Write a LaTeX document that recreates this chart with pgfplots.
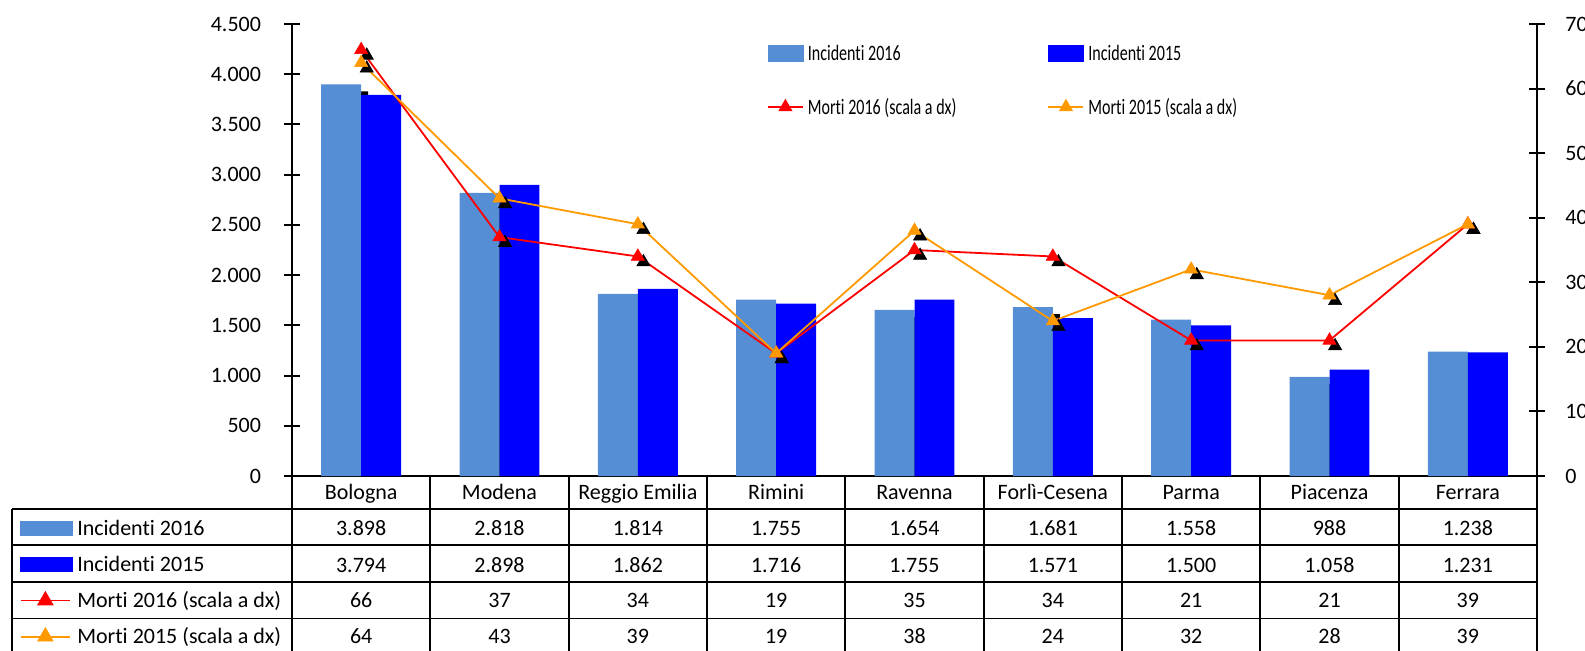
\documentclass[border=0pt]{standalone}
\usepackage{fontspec}
\setmainfont{Carlito}[Ligatures=NoCommon, RawFeature={-liga;-clig;-dlig}]
\usepackage{graphicx}
\usepackage{pgfplots}
\pgfplotsset{compat=1.18}
\usetikzlibrary{shadows}
\definecolor{lb}{RGB}{85,142,213}
\definecolor{db}{RGB}{0,0,255}
\definecolor{rd}{RGB}{255,0,0}
\definecolor{og}{RGB}{255,153,0}
\begin{document}
\begin{tikzpicture}[font=\fontsize{11}{13}\selectfont,
  tc/.style={inner sep=0pt, text height=7pt, text depth=0pt, anchor=center}]
\pgfplotsset{
  base/.style={width=622.5pt, height=226pt, scale only axis, at={(0,0)}, anchor=south west, xmin=0, xmax=9},
  lgd/.style={legend cell align=left,
    legend style={draw=none, fill=none, inner sep=0pt, outer sep=0pt,
      font=\fontsize{11}{13}\selectfont,
      nodes={inner sep=0pt, text height=7pt, text depth=0pt, minimum height=10pt}}},
}
% ---------- bars (left axis) ----------
\begin{axis}[base, ymin=0, ymax=4500, ytick={0,500,...,4500}, xtick=\empty,
  scaled y ticks=false,
  axis x line*=bottom, axis y line*=left,
  axis line style={-, line width=1pt, black},
  major tick length=8pt, tick align=center, tick style={line width=1pt, black},
  yticklabel style={inner sep=0pt, xshift=-11.3pt, font=\fontsize{11}{13}\selectfont},
  /pgf/number format/1000 sep={.},
  /pgf/number format/assume math mode=true]
\addplot[ybar, bar width=0.289, bar shift=-0.1445, fill=lb, draw=none,
  drop shadow={shadow xshift=3.5pt, shadow yshift=-3.5pt, fill=black, opacity=1}]
  coordinates {(0.5,3898) (1.5,2818) (2.5,1814) (3.5,1755) (4.5,1654) (5.5,1681) (6.5,1558) (7.5,988) (8.5,1238)};
\addplot[ybar, bar width=0.289, bar shift=0.1445, fill=db, draw=none]
  coordinates {(0.5,3794) (1.5,2898) (2.5,1862) (3.5,1716) (4.5,1755) (5.5,1571) (6.5,1500) (7.5,1058) (8.5,1231)};
\end{axis}
% ---------- lines (right axis) ----------
\begin{axis}[base, ymin=0, ymax=70, ytick={0,10,...,70},
  axis y line*=right, axis x line=none,
  axis line style={-, line width=1pt, black},
  major tick length=8pt, tick align=center, tick style={line width=1pt, black},
  yticklabel style={inner sep=0pt, xshift=10pt, font=\fontsize{11}{13}\selectfont},
  /pgf/number format/assume math mode=true,
  lgd, legend columns=2,
  legend style={at={(0,1)}, anchor=north west, xshift=237.5pt, yshift=-9.5pt,
    /tikz/every odd column/.append style={column sep=2pt},
    /tikz/every even column/.append style={column sep=45.5pt},
    row sep=17pt}]
\addlegendimage{legend image code/.code={\fill[lb] (0pt,-4pt) rectangle (17.5pt,4pt);}}
\addlegendentry{\scalebox{0.73}[1]{Incidenti 2016}}
\addlegendimage{legend image code/.code={\fill[db] (0pt,-4pt) rectangle (17.5pt,4pt);}}
\addlegendentry{\scalebox{0.73}[1]{Incidenti 2015}}
\addplot[only marks, mark=triangle*, mark size=3.8pt, black, mark options={fill=black, line width=0.3pt}, xshift=2.8pt, yshift=-2.8pt, forget plot]
  coordinates {(0.5,66) (1.5,37) (2.5,34) (3.5,19) (4.5,35) (5.5,34) (6.5,21) (7.5,21) (8.5,39)};
\addplot[only marks, mark=triangle*, mark size=3.8pt, black, mark options={fill=black, line width=0.3pt}, xshift=2.8pt, yshift=-2.8pt, forget plot]
  coordinates {(0.5,64) (1.5,43) (2.5,39) (3.5,19) (4.5,38) (5.5,24) (6.5,32) (7.5,28) (8.5,39)};
\addplot[rd, line width=0.9pt, mark=triangle*, mark size=3.8pt, mark options={solid, fill=rd, draw=rd, line width=0.3pt},
  legend image code/.code={\draw[rd, line width=0.9pt, mark=triangle*, mark size=3.8pt, mark options={fill=rd, draw=rd, line width=0.3pt}, mark repeat=2, mark phase=2] plot coordinates {(0pt,0pt) (8.75pt,0pt) (17.5pt,0pt)};}]
  coordinates {(0.5,66) (1.5,37) (2.5,34) (3.5,19) (4.5,35) (5.5,34) (6.5,21) (7.5,21) (8.5,39)};
\addlegendentry{\scalebox{0.73}[1]{Morti 2016 (scala a dx)}}
\addplot[og, line width=0.9pt, mark=triangle*, mark size=3.8pt, mark options={solid, fill=og, draw=og, line width=0.3pt},
  legend image code/.code={\draw[og, line width=0.9pt, mark=triangle*, mark size=3.8pt, mark options={fill=og, draw=og, line width=0.3pt}, mark repeat=2, mark phase=2] plot coordinates {(0pt,0pt) (8.75pt,0pt) (17.5pt,0pt)};}]
  coordinates {(0.5,64) (1.5,43) (2.5,39) (3.5,19) (4.5,38) (5.5,24) (6.5,32) (7.5,28) (8.5,39)};
\addlegendentry{\scalebox{0.73}[1]{Morti 2015 (scala a dx)}}
\end{axis}
% ---------- data table ----------
\begin{axis}[base, ymin=0, ymax=1, hide axis, clip=false,
  lgd, legend columns=1,
  legend style={at={(0,0)}, anchor=north west, xshift=-136pt, yshift=-21.1pt,
    /tikz/every odd column/.append style={column sep=2pt},
    row sep=8.07pt}]
\addlegendimage{legend image code/.code={\fill[lb] (0pt,-3.5pt) rectangle (26pt,3.5pt);}}
\addlegendentry{Incidenti 2016}
\addlegendimage{legend image code/.code={\fill[db] (0pt,-3.5pt) rectangle (26pt,3.5pt);}}
\addlegendentry{Incidenti 2015}
\addlegendimage{legend image code/.code={\draw[rd, line width=0.9pt, mark=triangle*, mark size=4.5pt, mark options={fill=rd, draw=rd, line width=0.3pt}, mark repeat=2, mark phase=2] plot coordinates {(0pt,0pt) (12.25pt,0pt) (24.5pt,0pt)}; \path (26pt,0pt);}}
\addlegendentry{Morti 2016 (scala a dx)}
\addlegendimage{legend image code/.code={\draw[og, line width=0.9pt, mark=triangle*, mark size=4.5pt, mark options={fill=og, draw=og, line width=0.3pt}, mark repeat=2, mark phase=2] plot coordinates {(0pt,0pt) (12.25pt,0pt) (24.5pt,0pt)}; \path (26pt,0pt);}}
\addlegendentry{Morti 2015 (scala a dx)}
% grid
\draw[line width=1pt] (axis cs:0,0) -- ([yshift=-100pt]axis cs:0,0);
\draw[line width=1pt] (axis cs:1,0) -- ([yshift=-100pt]axis cs:1,0);
\draw[line width=1pt] (axis cs:2,0) -- ([yshift=-100pt]axis cs:2,0);
\draw[line width=1pt] (axis cs:3,0) -- ([yshift=-100pt]axis cs:3,0);
\draw[line width=1pt] (axis cs:4,0) -- ([yshift=-100pt]axis cs:4,0);
\draw[line width=1pt] (axis cs:5,0) -- ([yshift=-100pt]axis cs:5,0);
\draw[line width=1pt] (axis cs:6,0) -- ([yshift=-100pt]axis cs:6,0);
\draw[line width=1pt] (axis cs:7,0) -- ([yshift=-100pt]axis cs:7,0);
\draw[line width=1pt] (axis cs:8,0) -- ([yshift=-100pt]axis cs:8,0);
\draw[line width=1pt] (axis cs:9,0) -- ([yshift=-100pt]axis cs:9,0);
\draw[line width=1pt] ([xshift=-140pt,yshift=-16.5pt]axis cs:0,0) -- ([xshift=-140pt,yshift=-100pt]axis cs:0,0);
\draw[line width=0.9pt] ([xshift=-140pt,yshift=-16.5pt]axis cs:0,0) -- ([yshift=-16.5pt]axis cs:9,0);
\draw[line width=0.9pt] ([xshift=-140pt,yshift=-34.5pt]axis cs:0,0) -- ([yshift=-34.5pt]axis cs:9,0);
\draw[line width=0.9pt] ([xshift=-140pt,yshift=-52.9pt]axis cs:0,0) -- ([yshift=-52.9pt]axis cs:9,0);
\draw[line width=0.9pt] ([xshift=-140pt,yshift=-71.2pt]axis cs:0,0) -- ([yshift=-71.2pt]axis cs:9,0);
% header
\node[tc, yshift=-8.3pt] at (axis cs:0.5,0) {Bologna};
\node[tc, yshift=-8.3pt] at (axis cs:1.5,0) {Modena};
\node[tc, yshift=-8.3pt] at (axis cs:2.5,0) {Reggio Emilia};
\node[tc, yshift=-8.3pt] at (axis cs:3.5,0) {Rimini};
\node[tc, yshift=-8.3pt] at (axis cs:4.5,0) {Ravenna};
\node[tc, yshift=-8.3pt] at (axis cs:5.5,0) {Forlì-Cesena};
\node[tc, yshift=-8.3pt] at (axis cs:6.5,0) {Parma};
\node[tc, yshift=-8.3pt] at (axis cs:7.5,0) {Piacenza};
\node[tc, yshift=-8.3pt] at (axis cs:8.5,0) {Ferrara};
% Incidenti 2016
\node[tc, yshift=-26.1pt] at (axis cs:0.5,0) {3.898};
\node[tc, yshift=-26.1pt] at (axis cs:1.5,0) {2.818};
\node[tc, yshift=-26.1pt] at (axis cs:2.5,0) {1.814};
\node[tc, yshift=-26.1pt] at (axis cs:3.5,0) {1.755};
\node[tc, yshift=-26.1pt] at (axis cs:4.5,0) {1.654};
\node[tc, yshift=-26.1pt] at (axis cs:5.5,0) {1.681};
\node[tc, yshift=-26.1pt] at (axis cs:6.5,0) {1.558};
\node[tc, yshift=-26.1pt] at (axis cs:7.5,0) {988};
\node[tc, yshift=-26.1pt] at (axis cs:8.5,0) {1.238};
% Incidenti 2015
\node[tc, yshift=-44.5pt] at (axis cs:0.5,0) {3.794};
\node[tc, yshift=-44.5pt] at (axis cs:1.5,0) {2.898};
\node[tc, yshift=-44.5pt] at (axis cs:2.5,0) {1.862};
\node[tc, yshift=-44.5pt] at (axis cs:3.5,0) {1.716};
\node[tc, yshift=-44.5pt] at (axis cs:4.5,0) {1.755};
\node[tc, yshift=-44.5pt] at (axis cs:5.5,0) {1.571};
\node[tc, yshift=-44.5pt] at (axis cs:6.5,0) {1.500};
\node[tc, yshift=-44.5pt] at (axis cs:7.5,0) {1.058};
\node[tc, yshift=-44.5pt] at (axis cs:8.5,0) {1.231};
% Morti 2016
\node[tc, yshift=-62.1pt] at (axis cs:0.5,0) {66};
\node[tc, yshift=-62.1pt] at (axis cs:1.5,0) {37};
\node[tc, yshift=-62.1pt] at (axis cs:2.5,0) {34};
\node[tc, yshift=-62.1pt] at (axis cs:3.5,0) {19};
\node[tc, yshift=-62.1pt] at (axis cs:4.5,0) {35};
\node[tc, yshift=-62.1pt] at (axis cs:5.5,0) {34};
\node[tc, yshift=-62.1pt] at (axis cs:6.5,0) {21};
\node[tc, yshift=-62.1pt] at (axis cs:7.5,0) {21};
\node[tc, yshift=-62.1pt] at (axis cs:8.5,0) {39};
% Morti 2015
\node[tc, yshift=-80.3pt] at (axis cs:0.5,0) {64};
\node[tc, yshift=-80.3pt] at (axis cs:1.5,0) {43};
\node[tc, yshift=-80.3pt] at (axis cs:2.5,0) {39};
\node[tc, yshift=-80.3pt] at (axis cs:3.5,0) {19};
\node[tc, yshift=-80.3pt] at (axis cs:4.5,0) {38};
\node[tc, yshift=-80.3pt] at (axis cs:5.5,0) {24};
\node[tc, yshift=-80.3pt] at (axis cs:6.5,0) {32};
\node[tc, yshift=-80.3pt] at (axis cs:7.5,0) {28};
\node[tc, yshift=-80.3pt] at (axis cs:8.5,0) {39};
\end{axis}
\pgfresetboundingbox
\path (-146pt,-87pt) rectangle (646.5pt,238pt);
\end{tikzpicture}
\end{document}
